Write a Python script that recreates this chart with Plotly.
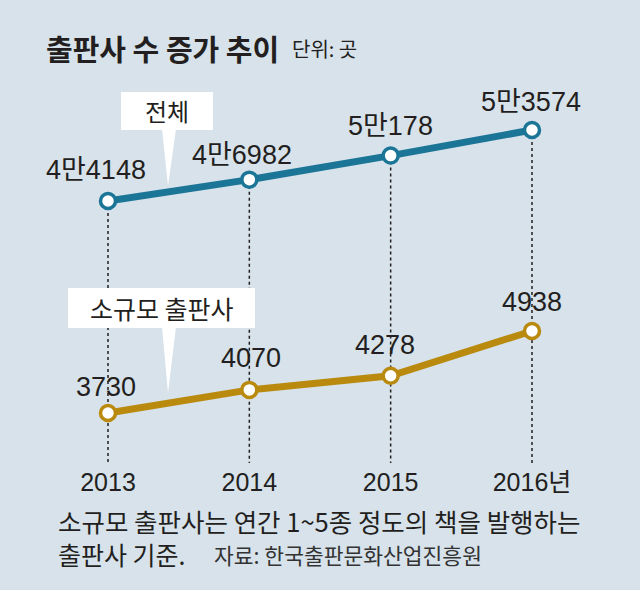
import plotly.graph_objects as go

years = [2013, 2014, 2015, 2016]
tick_labels = ["2013", "2014", "2015", "2016년"]
total = [44148, 46982, 50178, 53574]
total_labels = ["4만4148", "4만6982", "5만178", "5만3574"]
small = [3730, 4070, 4278, 4938]
small_labels = ["3730", "4070", "4278", "4938"]

W, H = 640, 590
PLOT_BOTTOM = 463  # px
BG = "#d7e2ea"
BLUE = "#1b7597"
GOLD = "#b98a0e"
INK = "#231f20"
NUM_FONT = "Liberation Sans, Arial, Noto Sans CJK KR"
KR_FONT = "Noto Sans CJK KR"

X_RANGE = [2013 - 108 / 141.33, 2013 + 532 / 141.33]
TOP_RANGE = [9363, 70834]
BOT_RANGE = [2993, 9814]


def px(x):
    return x / W


def py(y):
    return 1 - y / PLOT_BOTTOM


fig = go.Figure()

fig.add_trace(go.Scatter(
    x=years, y=total, mode="lines+markers", yaxis="y",
    line=dict(color=BLUE, width=7),
    marker=dict(size=15, color="white", line=dict(color=BLUE, width=3.5)),
    hoverinfo="skip", showlegend=False))
fig.add_trace(go.Scatter(
    x=years, y=small, mode="lines+markers", yaxis="y2",
    line=dict(color=GOLD, width=7),
    marker=dict(size=15, color="white", line=dict(color=GOLD, width=3.5)),
    hoverinfo="skip", showlegend=False))

shapes = []
for yr, v in zip(years, total):
    shapes.append(dict(type="line", xref="x", yref="y", x0=yr, x1=yr, y0=v, y1=TOP_RANGE[0],
                       line=dict(color=INK, width=1.5, dash="dot"), layer="below"))


def box(x0, y0, x1, y1, bx0, bx1, tx, ty):
    shapes.append(dict(type="rect", xref="paper", yref="paper", x0=px(x0), x1=px(x1),
                       y0=py(y1), y1=py(y0), fillcolor="white", line=dict(width=0), layer="above"))
    path = f"M {px(bx0)} {py(y1 - 1)} L {px(bx1)} {py(y1 - 1)} L {px(tx)} {py(ty)} Z"
    shapes.append(dict(type="path", xref="paper", yref="paper", path=path,
                       fillcolor="white", line=dict(width=0), layer="above"))


box(121, 92, 213, 130, 162, 176, 168, 186)
box(68, 288, 255, 328, 162, 176, 168, 393)

annotations = []
top_shift = [(-12, 31), (-7, 25), (0, 30), (-1, 28)]
bot_shift = [(-2, 26), (2, 32), (-6, 31), (0, 29)]
for yr, v, t, (dx, dy) in zip(years, total, total_labels, top_shift):
    annotations.append(dict(x=yr, y=v, xref="x", yref="y", text=t, showarrow=False,
                            xanchor="center", yanchor="middle",
                            xshift=dx, yshift=dy, font=dict(family=NUM_FONT, size=27, color=INK)))
for yr, v, t, (dx, dy) in zip(years, small, small_labels, bot_shift):
    annotations.append(dict(x=yr, y=v, xref="x", yref="y2", text=t, showarrow=False,
                            xanchor="center", yanchor="middle",
                            xshift=dx, yshift=dy, font=dict(family=NUM_FONT, size=27, color=INK)))


def label(x, y, text, size, color=INK, anchor="center"):
    annotations.append(dict(x=px(x), y=py(y), xref="paper", yref="paper", text=text,
                            showarrow=False, xanchor=anchor, yanchor="middle",
                            font=dict(family=KR_FONT, size=size, color=color)))


label(167, 110, "전체", 24)
label(162, 308, "소규모 출판사", 25)
label(44, 48, "<b>출판사 수 증가 추이</b>", 29, anchor="left")
label(290, 49, "단위: 곳", 20, anchor="left")
label(56, 520, "소규모 출판사는 연간 1~5종 정도의 책을 발행하는", 25.5, anchor="left")
label(56, 554, "출판사 기준.", 25, anchor="left")
label(212, 554, "자료: 한국출판문화산업진흥원", 21.5, color="#333333", anchor="left")

fig.update_layout(
    width=W, height=H,
    margin=dict(l=0, r=0, t=0, b=H - PLOT_BOTTOM, pad=0),
    paper_bgcolor=BG, plot_bgcolor="rgba(0,0,0,0)",
    xaxis=dict(range=X_RANGE, tickvals=years, ticktext=tick_labels, showgrid=False,
               zeroline=False, showline=False, ticks="", ticklabelstandoff=2,
               tickfont=dict(family=NUM_FONT, size=25, color=INK), fixedrange=True),
    yaxis=dict(range=TOP_RANGE, visible=False, fixedrange=True),
    yaxis2=dict(range=BOT_RANGE, visible=False, overlaying="y", fixedrange=True),
    shapes=shapes, annotations=annotations,
)

fig.write_html("out.html")
